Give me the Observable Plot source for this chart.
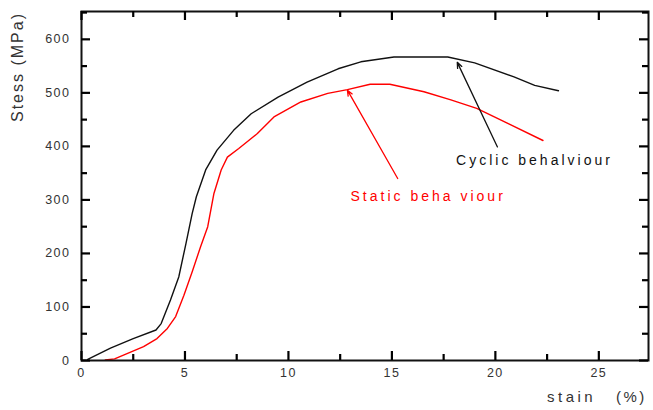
<!DOCTYPE html>
<html>
<head>
<meta charset="utf-8">
<script src="https://cdn.jsdelivr.net/npm/d3@7"></script>
<script src="https://cdn.jsdelivr.net/npm/@observablehq/plot@0.6"></script>
<style>
  html, body { margin: 0; padding: 0; background: #fff; }
</style>
</head>
<body>
<div id="chart"></div>
<script>
// Cyclic behaviour (black)
const cyclicStrain = [0.3, 1.4, 2.5, 3.6, 3.85, 4.3, 4.7, 5.05, 5.35, 5.55, 6.0, 6.55, 7.35, 8.2, 9.5, 10.9, 12.4, 13.5, 15.1, 17.7, 19.0, 20.9, 21.9, 23.05];
const cyclicStress = [2, 23, 41, 57, 69, 113, 156, 219, 275, 306, 356, 393, 430, 461, 492, 520, 545, 558, 567, 567, 556, 530, 514, 504];
// Static behaviour (red)
const staticStrain = [1.15, 1.6, 2.2, 3.0, 3.65, 4.15, 4.55, 4.95, 5.35, 5.75, 6.1, 6.4, 6.75, 7.05, 7.6, 8.5, 9.3, 10.6, 11.9, 12.85, 13.95, 14.9, 16.55, 17.85, 19.1, 20.6, 22.3];
const staticStress = [1, 3, 13, 26, 41, 60, 82, 122, 166, 212, 250, 312, 356, 380, 396, 424, 455, 483, 499, 506, 516, 516, 502, 487, 471, 443, 411];
// Ticks
const xMajor = [0, 5, 10, 15, 20, 25];
const xMinor = [2.5, 7.5, 12.5, 17.5, 22.5];
const yMajor = [0, 100, 200, 300, 400, 500, 600];
const yMinor = [50, 150, 250, 350, 450, 550, 650];
// Annotations
const annotations = [
  {label: "Cyclic behalviour", x: 18.1, y: 374, color: "#111", x1: 20.1, y1: 399, x2: 18.16, y2: 557},
  {label: "Static beha viour", x: 13.0, y: 306, color: "#ff0000", x1: 15.28, y1: 340, x2: 12.85, y2: 505}
];
const xLabel = ["stain", "(%)"];
const yLabel = "Stess (MPa)";

const cyclic = cyclicStrain.map((s, i) => ({strain: s, stress: cyclicStress[i]}));
const stat = staticStrain.map((s, i) => ({strain: s, stress: staticStress[i]}));

const W = 653, H = 410, mL = 81, mR = 5, mT = 11, mB = 50;
const fw = W - mL - mR, fh = H - mT - mB;
const tk = {stroke: "#000", strokeWidth: 2.2, strokeOpacity: 1};
const labStyle = {fontSize: 12.5, fill: "#333", tickSize: 0, label: null};

const chart = Plot.plot({
  width: W,
  height: H,
  marginLeft: mL,
  marginRight: mR,
  marginTop: mT,
  marginBottom: mB,
  style: {fontFamily: "'Liberation Sans', Arial, sans-serif", background: "#fff"},
  x: {domain: [0, 27.4]},
  y: {domain: [0, 652]},
  marks: [
    Plot.axisX(xMajor, {...labStyle, anchor: "bottom", tickPadding: 8}),
    Plot.axisY(yMajor, {...labStyle, anchor: "left", tickPadding: 11}),
    Plot.line(cyclic, {x: "strain", y: "stress", stroke: "#111", strokeWidth: 1.4}),
    Plot.line(stat, {x: "strain", y: "stress", stroke: "#ff0000", strokeWidth: 1.4}),
    Plot.arrow(annotations, {x1: "x1", y1: "y1", x2: "x2", y2: "y2", stroke: "color", strokeWidth: 1.3, headLength: 7, headAngle: 45}),
    Plot.text(annotations, {x: "x", y: "y", text: "label", fill: "color", textAnchor: "start", fontSize: 14}),
    Plot.frame({stroke: "#111", strokeWidth: 2}),
    // inward ticks: bottom / top
    Plot.tickX(xMajor, {...tk, x: d => d, insetTop: fh - 9}),
    Plot.tickX(xMinor, {...tk, x: d => d, insetTop: fh - 6}),
    Plot.tickX(xMajor, {...tk, x: d => d, insetBottom: fh - 9}),
    Plot.tickX(xMinor, {...tk, x: d => d, insetBottom: fh - 6}),
    // inward ticks: left / right
    Plot.tickY(yMajor, {...tk, y: d => d, insetRight: fw - 9}),
    Plot.tickY(yMinor, {...tk, y: d => d, insetRight: fw - 6}),
    Plot.tickY(yMajor, {...tk, y: d => d, insetLeft: fw - 9}),
    Plot.tickY(yMinor, {...tk, y: d => d, insetLeft: fw - 6})
  ]
});

const svg = d3.select(chart);
svg.selectAll("g[aria-label='text'] text").style("letter-spacing", "3px");
svg.selectAll("g[aria-label='x-axis tick label'] text, g[aria-label='y-axis tick label'] text").style("letter-spacing", "1.5px");
svg.selectAll("g[aria-label='tick'] line").attr("stroke", "#000").attr("stroke-width", 2.2);

svg.append("text")
  .attr("transform", "translate(17,67) rotate(-90)")
  .attr("text-anchor", "middle")
  .attr("dy", "0.35em")
  .attr("font-size", 16)
  .attr("fill", "#333")
  .style("letter-spacing", "2px")
  .text(yLabel);
svg.append("text")
  .attr("x", 547).attr("y", 402)
  .attr("text-anchor", "start")
  .attr("font-size", 15)
  .attr("fill", "#333")
  .style("letter-spacing", "3.5px")
  .text(xLabel[0]);
svg.append("text")
  .attr("x", 616).attr("y", 402)
  .attr("text-anchor", "start")
  .attr("font-size", 15)
  .attr("fill", "#333")
  .style("letter-spacing", "2.5px")
  .text(xLabel[1]);

document.getElementById("chart").appendChild(chart);
</script>
</body>
</html>
